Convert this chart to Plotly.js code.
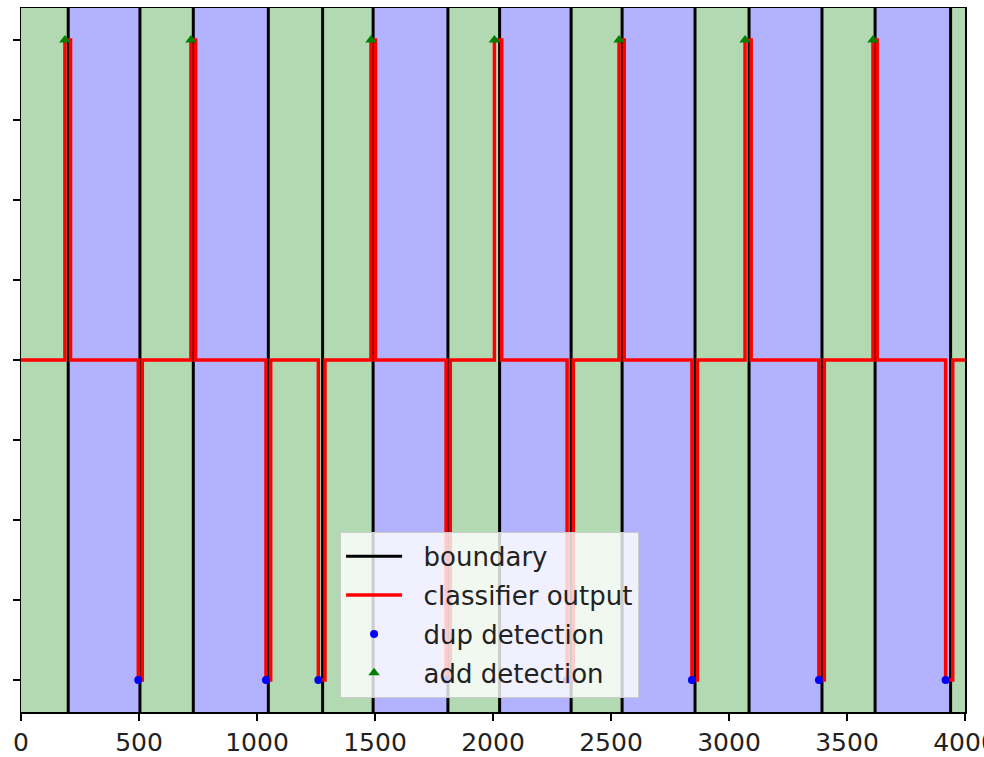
<!DOCTYPE html>
<html>
<head>
<meta charset="utf-8">
<script src="https://cdn.plot.ly/plotly-3.0.1.min.js"></script>
<style>html,body{margin:0;padding:0;background:#fff;}#chart{width:984px;height:757px;}</style>
</head>
<body>
<div id="chart"></div>
<script>
// Segment boundaries (sample index)
const boundaries = [200, 504, 730, 1048, 1278, 1492, 1809, 2028, 2331, 2547, 2856, 3085, 3394, 3619, 3939];
// Class of each segment between boundaries (0 .. 4000)
const segmentClass = ['green','blue','green','blue','green','green','blue','green','blue','green','blue','green','blue','green','blue','green'];
// Detections
const addX = [186, 720, 1483, 2006, 2534, 3068, 3610];
const addY = [1, 1, 1, 1, 1, 1, 1];
const dupX = [497, 1038, 1260, 1801, 2314, 2843, 3381, 3918];
const dupY = [-1, -1, -1, -1, -1, -1, -1, -1];
// Classifier output (step function change points)
const clsX = [0, 186, 210, 497, 514, 720, 740, 1038, 1058, 1260, 1288, 1483, 1502, 1801, 1819, 2006, 2037, 2314, 2340, 2534, 2556, 2843, 2866, 3068, 3094, 3381, 3404, 3610, 3628, 3918, 3948, 4000];
const clsY = [0, 1, 0, -1, 0, 1, 0, -1, 0, -1, 0, 1, 0, -1, 0, 1, 0, -1, 0, 1, 0, -1, 0, 1, 0, -1, 0, 1, 0, -1, 0, 0];
const xTicks = [0, 500, 1000, 1500, 2000, 2500, 3000, 3500, 4000];
const yTicks = [-1, -0.75, -0.5, -0.25, 0, 0.25, 0.5, 0.75, 1];
const seriesNames = ['boundary', 'classifier output', 'dup detection', 'add detection'];

const XMIN = 0, XMAX = 4000, YMIN = -1.1, YMAX = 1.1;
const bandColors = {green: 'rgba(0,128,0,0.3)', blue: 'rgba(0,0,255,0.3)'};
const GAP = '\u00a0\u00a0';

const edges = [XMIN].concat(boundaries, [XMAX]);
const shapes = segmentClass.map((c, i) => ({
  type: 'rect', xref: 'x', yref: 'paper', x0: edges[i], x1: edges[i + 1], y0: 0, y1: 1,
  fillcolor: bandColors[c], line: {width: 0}, layer: 'below'
}));

const bx = [], by = [];
boundaries.forEach(b => { bx.push(b, b, null); by.push(YMIN, YMAX, null); });

const traces = [
  {x: bx, y: by, type: 'scatter', mode: 'lines', name: GAP + seriesNames[0], legendgroup: 'a',
   line: {color: '#000000', width: 3}, hoverinfo: 'skip'},
  {x: clsX, y: clsY, type: 'scatter', mode: 'lines', name: GAP + seriesNames[1], legendgroup: 'b',
   line: {color: '#ff0000', width: 3.5, shape: 'hv'}},
  {x: dupX, y: dupY, type: 'scatter', mode: 'markers', name: GAP + seriesNames[2], legendgroup: 'c',
   marker: {color: '#0000ff', size: 8, symbol: 'circle'}},
  {x: addX, y: addY, type: 'scatter', mode: 'markers', name: GAP + seriesNames[3], legendgroup: 'd',
   marker: {color: '#008000', size: 10, symbol: 'triangle-up'}}
];

const layout = {
  width: 984, height: 757,
  margin: {l: 21, r: 19, t: 8, b: 45, pad: 0},
  paper_bgcolor: '#ffffff', plot_bgcolor: '#ffffff',
  font: {family: 'DejaVu Sans', size: 26, color: '#222222'},
  showlegend: true,
  legend: {
    x: 0.338, y: 0.02, xanchor: 'left', yanchor: 'bottom',
    bgcolor: 'rgba(255,255,255,0.8)', bordercolor: '#cccccc', borderwidth: 1,
    font: {family: 'DejaVu Sans', size: 26, color: '#222222'},
    itemwidth: 56, tracegroupgap: 2
  },
  xaxis: {
    range: [XMIN, XMAX], tickmode: 'array', tickvals: xTicks, ticktext: xTicks.map(String),
    ticks: 'outside', ticklen: 7, tickwidth: 1.5, tickcolor: '#000', ticklabeloverflow: 'allow',
    tickfont: {family: 'DejaVu Sans', size: 25, color: '#222222'},
    showline: true, linecolor: '#000', linewidth: 1.5, mirror: true,
    showgrid: false, zeroline: false
  },
  yaxis: {
    range: [YMIN, YMAX], tickmode: 'array', tickvals: yTicks, showticklabels: false,
    ticks: 'outside', ticklen: 7, tickwidth: 1.5, tickcolor: '#000',
    showline: true, linecolor: '#000', linewidth: 1.5, mirror: true,
    showgrid: false, zeroline: false
  },
  shapes: shapes
};

Plotly.newPlot('chart', traces, layout, {displayModeBar: false, staticPlot: true});
</script>
</body>
</html>
